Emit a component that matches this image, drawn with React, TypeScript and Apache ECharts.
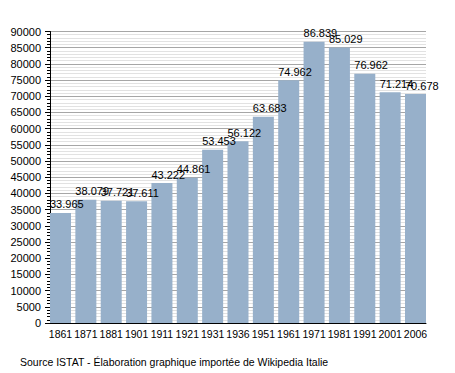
import React, { useEffect, useRef } from "react";
import * as echarts from "echarts";

const categories = ["1861", "1871", "1881", "1901", "1911", "1921", "1931", "1936", "1951", "1961", "1971", "1981", "1991", "2001", "2006"];
const population = [33965, 38079, 37721, 37611, 43222, 44861, 53453, 56122, 63683, 74962, 86839, 85029, 76962, 71214, 70678];
const yMin = 0;
const yMax = 90000;
const yInterval = 5000;
const footerText = "Source ISTAT - Élaboration graphique importée de Wikipedia Italie";

const FONT = "'Liberation Sans', Arial, sans-serif";

function formatThousands(v: number): string {
  return String(v).replace(/\B(?=(\d{3})+(?!\d))/g, ".");
}

export default function App() {
  const ref = useRef<HTMLDivElement>(null);
  useEffect(() => {
    if (!ref.current) return;
    const chart = echarts.init(ref.current, undefined, { renderer: "svg" });
    chart.setOption({
      animation: false,
      backgroundColor: "#ffffff",
      grid: [
        { left: 50, right: 29, top: 31.5, bottom: 50 },
        { left: 60.5, right: 39.5, top: 31.5, bottom: 50 },
      ],
      xAxis: [
        {
          gridIndex: 0,
          type: "category",
          data: categories,
          boundaryGap: true,
          axisLine: { show: true, lineStyle: { color: "#000", width: 1 } },
          axisTick: { show: false },
          axisLabel: { show: false },
          splitLine: { show: false },
        },
        {
          gridIndex: 1,
          type: "category",
          data: categories,
          boundaryGap: false,
          axisLine: { show: false },
          axisTick: { show: false },
          splitLine: { show: false },
          axisLabel: { interval: 0, fontSize: 10.5, color: "#000", margin: 5, fontFamily: FONT },
        },
      ],
      yAxis: [
        {
          gridIndex: 0,
          type: "value",
          min: yMin,
          max: yMax,
          interval: yInterval,
          axisLine: { show: true, lineStyle: { color: "#000", width: 1 } },
          axisTick: { show: true, length: 5, lineStyle: { color: "#000" } },
          minorTick: { show: true, splitNumber: 5, length: 3, lineStyle: { color: "#000" } },
          splitLine: { show: true, lineStyle: { color: "#a6a6a6", width: 1 } },
          minorSplitLine: { show: true, lineStyle: { color: "#e2e2e2", width: 1 } },
          axisLabel: {
            fontSize: 11,
            color: "#000",
            margin: 9,
            fontFamily: FONT,
            formatter: (v: number) => String(v),
          },
        },
        {
          gridIndex: 1,
          type: "value",
          min: yMin,
          max: yMax,
          show: false,
          splitLine: { show: false },
        },
      ],
      series: [
        {
          type: "bar",
          xAxisIndex: 1,
          yAxisIndex: 1,
          data: population,
          barWidth: 21,
          clip: false,
          itemStyle: { color: "#97b0ca" },
          label: {
            show: true,
            position: [0, -3],
            align: "left",
            verticalAlign: "bottom",
            fontSize: 11,
            color: "#000",
            fontFamily: FONT,
            formatter: (p: any) => formatThousands(p.value),
          },
        },
      ],
      graphic: [
        {
          type: "text",
          left: 20,
          top: 356,
          style: { text: footerText, fontSize: 10.5, fill: "#000", fontFamily: FONT },
        },
      ],
    });
    return () => chart.dispose();
  }, []);
  return (
    <div
      ref={ref}
      style={{ position: "fixed", left: 0, top: 0, width: 455, height: 373, background: "#fff" }}
    />
  );
}
